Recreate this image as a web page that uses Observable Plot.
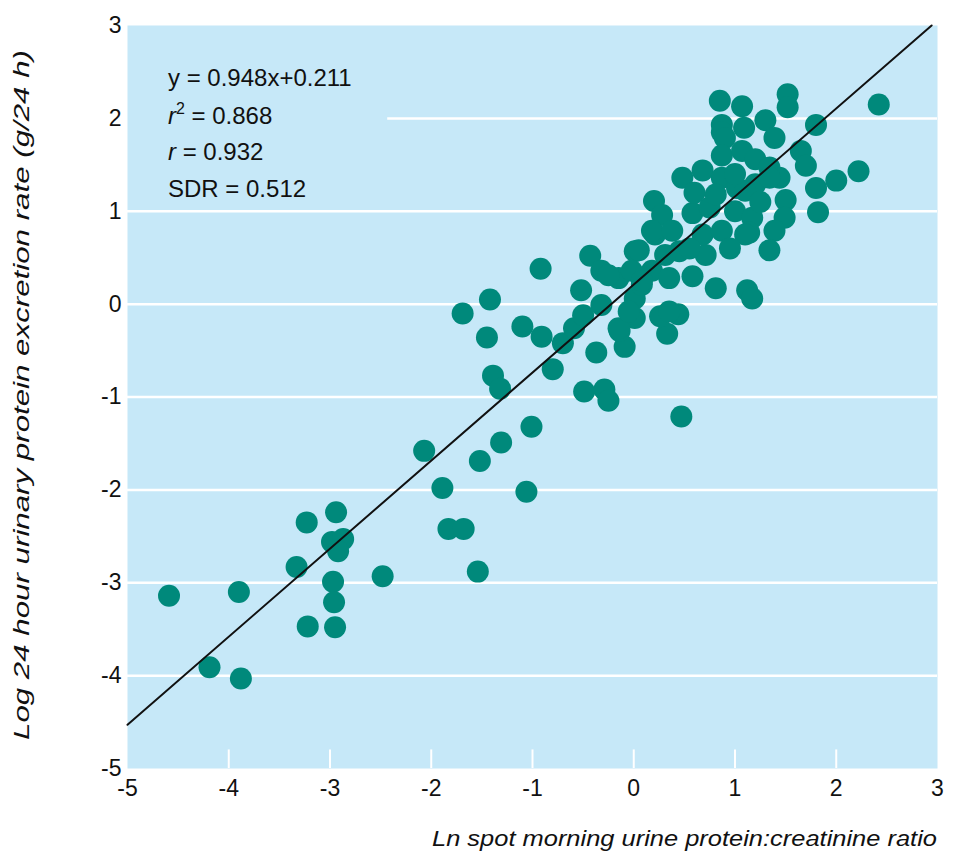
<!DOCTYPE html>
<html><head><meta charset="utf-8">
<script src="https://cdn.jsdelivr.net/npm/d3@7"></script>
<script src="https://cdn.jsdelivr.net/npm/@observablehq/plot@0.6"></script>
<style>body{margin:0;background:#fff;}</style>
</head><body><div id="chart"></div>
<script>
// Ln spot morning urine protein:creatinine ratio
const xs = [
 -4.59,-3.90,-4.19,-3.88,-3.23,-2.94,-2.98,-2.87,-2.92,-3.33,-2.97,-2.96,-3.22,-2.95,-2.48,-2.07,-1.89,-1.83,-1.68,-1.54,-1.52,-1.31,-1.01,-1.06,
 -1.69,-1.42,-1.45,-0.92,-1.10,-0.91,-0.70,-1.39,-1.32,-0.80,-0.37,-0.49,-0.29,-0.25,0.47,-0.09,-0.14,0.33,0.26,0.44,0.81,0.58,-0.43,-0.52,-0.59,-0.50,-0.32,-0.32,-0.15,0.01,0.01,0.01,-0.15,0.08,0.18,0.35,0.21,0.45,0.71,-0.05,1.12,1.17,-0.25,-0.02,0.35,
 0.85,1.07,1.52,1.52,2.42,1.80,1.30,1.39,0.87,0.87,1.09,0.90,0.87,1.07,1.20,1.34,1.44,1.65,1.70,1.80,2.00,2.22,1.82,1.50,1.49,1.39,1.34,0.48,0.68,0.87,1.02,1.20,0.20,0.28,0.58,0.75,1.00,1.17,0.18,0.38,0.68,0.87,1.14,0.05,0.31,0.55,0.08,1.34,1.10,0.81,1.10,1.00,1.25,0.95,0.60
];
// Log 24 hour urinary protein excretion rate (g/24 h)
const ys = [
 -3.14,-3.10,-3.91,-4.03,-2.35,-2.24,-2.56,-2.53,-2.66,-2.83,-2.99,-3.21,-3.47,-3.48,-2.93,-1.58,-1.98,-2.42,-2.42,-2.88,-1.69,-1.49,-1.32,-2.02,
 -0.10,0.05,-0.36,0.38,-0.24,-0.35,-0.42,-0.77,-0.91,-0.70,-0.52,-0.94,-0.92,-1.04,-1.21,-0.46,-0.29,-0.32,-0.13,-0.11,0.17,0.30,0.52,0.15,-0.26,-0.12,0.36,-0.01,0.28,0.57,0.06,-0.15,-0.26,0.21,0.36,0.28,0.75,0.57,0.53,-0.08,0.15,0.06,0.31,0.36,-0.08,
 2.19,2.13,2.26,2.12,2.15,1.93,1.98,1.79,1.93,1.85,1.90,1.79,1.60,1.65,1.56,1.47,1.36,1.65,1.49,1.25,1.33,1.43,0.99,1.12,0.93,0.79,0.58,1.36,1.44,1.36,1.25,1.29,1.11,0.96,0.98,1.04,1.00,0.93,0.79,0.79,0.75,0.79,0.77,0.58,0.53,0.60,0.25,1.36,1.22,1.18,0.75,1.40,1.10,0.60,1.20
];
const xTicks = [-5,-4,-3,-2,-1,0,1,2,3];
const yTicks = [-5,-4,-3,-2,-1,0,1,2,3];
const slope = 0.948, intercept = 0.211;
const statLines = ["y = 0.948x+0.211", "r2 = 0.868", "r = 0.932", "SDR = 0.512"];
const xLabel = "Ln spot morning urine protein:creatinine ratio";
const yLabel = "Log 24 hour urinary protein excretion rate (g/24 h)";

const points = xs.map((x, i) => ({x, y: ys[i]}));
const fitX = [-5, (3 - intercept) / slope];
const fit = fitX.map(x => ({x, y: slope * x + intercept}));

const W = 955, H = 857, mL = 127, mR = 18, mT = 25, mB = 89;
const plot = Plot.plot({
  width: W, height: H, marginLeft: mL, marginRight: mR, marginTop: mT, marginBottom: mB,
  style: {fontFamily: "'Liberation Sans', Arial, sans-serif", fontSize: "23px", background: "#fff", color: "#111"},
  x: {domain: [-5, 3], label: null},
  y: {domain: [-5, 3], label: null},
  marks: [
    Plot.frame({fill: "#c6e8f8", stroke: "none"}),
    Plot.ruleY(yTicks.filter(t => t > -5 && t < 2), {stroke: "white", strokeWidth: 2.5}),
    Plot.ruleY([2], {x1: -2.43, x2: 3, stroke: "white", strokeWidth: 2.5}),
    Plot.ruleX(xTicks.filter(t => t > -5 && t < 3), {y1: -5, y2: -4.8, stroke: "white", strokeWidth: 2}),
    Plot.dot(points, {x: "x", y: "y", r: 11, fill: "#00897b", stroke: "none"}),
    Plot.line(fit, {x: "x", y: "y", stroke: "#111", strokeWidth: 2}),
    Plot.axisX({ticks: xTicks, tickSize: 0, tickPadding: 11, label: null, tickFormat: d => String(d), fontSize: 23}),
    Plot.axisY({ticks: yTicks, tickSize: 0, tickPadding: 6, label: null, tickFormat: d => String(d), fontSize: 23})
  ]
});
document.getElementById("chart").append(plot);

const svg = d3.select(plot);
const ff = "'Liberation Sans', Arial, sans-serif";
// axis titles
svg.append("text").attr("transform", "translate(29,395) rotate(-90)")
  .attr("text-anchor", "middle").attr("font-style", "italic").attr("font-size", 22)
  .attr("font-family", ff).attr("fill", "#111")
  .attr("textLength", 690).attr("lengthAdjust", "spacingAndGlyphs").text(yLabel);
svg.append("text").attr("x", 937).attr("y", 846)
  .attr("text-anchor", "end").attr("font-style", "italic").attr("font-size", 22)
  .attr("font-family", ff).attr("fill", "#111")
  .attr("textLength", 505).attr("lengthAdjust", "spacingAndGlyphs").text(xLabel);

// statistics annotation
const baselines = [86, 124, 160, 197];
statLines.forEach((s, i) => {
  const t = svg.append("text").attr("x", 168).attr("y", baselines[i])
    .attr("text-anchor", "start")
    .attr("font-size", 24).attr("font-family", ff).attr("fill", "#111");
  if (s.startsWith("r2")) {
    t.append("tspan").attr("font-style", "italic").text("r");
    t.append("tspan").attr("font-size", 16).attr("dy", -10).text("2");
    t.append("tspan").attr("dy", 10).text(" = " + s.split("= ")[1]);
  } else if (s.startsWith("r =")) {
    t.append("tspan").attr("font-style", "italic").text("r");
    t.append("tspan").text(" = " + s.split("= ")[1]);
  } else {
    t.text(s);
  }
});
</script>
</body></html>
